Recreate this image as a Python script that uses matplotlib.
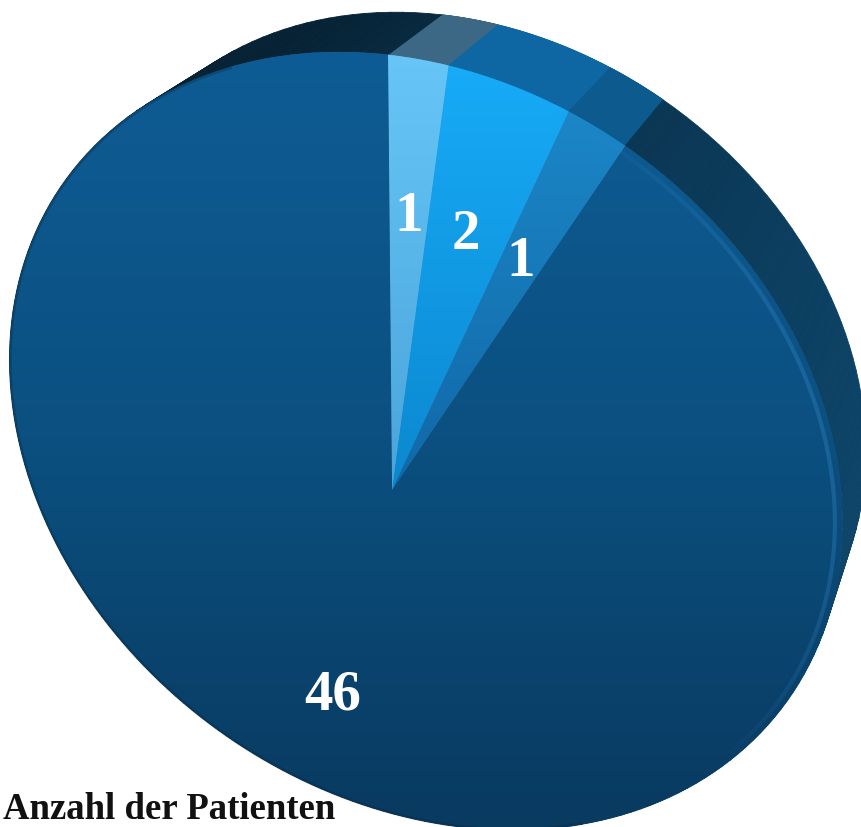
import numpy as np
import matplotlib
matplotlib.use("Agg")
import matplotlib.pyplot as plt
from matplotlib import transforms as mtransforms
from matplotlib.path import Path
from matplotlib.collections import PolyCollection, LineCollection
from matplotlib.colors import LinearSegmentedColormap, to_rgb

# Patienten je Gruppe, im Uhrzeigersinn ab 12 Uhr
werte = [1, 2, 1, 46]
beschriftung = ["1", "2", "1", "46"]
titel = "Anzahl der Patienten"

# Deckfläche (oben -> unten) und Mantelfarbe je Segment
deckel_farben = [["#67c6f7", "#4aa4da"],
                 ["#18acf9", "#0b88cf"],
                 ["#1d8bcb", "#1168a8"],
                 ["#0e5c95", "#0b5080", "#093a60"]]
rand_farben = ["#3c6886", "#0e67a3", "#0d5a8f", "#0d4468"]

W, H = 861, 827

# gekippte Scheibe in Pixelkoordinaten
ELL_C = np.array([426.0, 441.0])
ELL_A, ELL_B = 445.0, 356.0
ELL_ROT = np.radians(36.0)
APEX = np.array([392.0, 490.0])
TOP = np.array([388.0, 55.0])
VP = np.array([1200.0, -550.0])
DEPTH = 0.066


class PieView(mtransforms.Transform):
    """Projektive Abbildung Einheitskreis -> perspektivische Ellipse."""
    input_dims = output_dims = 2
    is_separable = False
    has_inverse = False

    def __init__(self):
        super().__init__()
        self.ex = np.array([np.cos(ELL_ROT), np.sin(ELL_ROT)])
        self.ey = np.array([np.sin(ELL_ROT), -np.cos(ELL_ROT)])
        p = self._to_disc(APEX)
        self.r = np.hypot(*p)
        self.phi = np.arctan2(p[1], p[0])
        self.beta = 0.0
        q = self._boost(*self._to_disc(TOP), -self.r)
        self.beta = np.arctan2(q[1], q[0]) - np.pi / 2

    def _to_disc(self, pt):
        d = pt - ELL_C
        return np.array([d @ self.ex / ELL_A, d @ self.ey / ELL_B])

    def _boost(self, x, y, r):
        c, s = np.cos(self.phi), np.sin(self.phi)
        xr, yr = c * x + s * y, -s * x + c * y
        den = 1 + r * xr
        xb = (xr + r) / den
        yb = yr * np.sqrt(1 - r * r) / den
        return c * xb - s * yb, s * xb + c * yb

    def transform_non_affine(self, xy):
        xy = np.asarray(xy, float)
        single = xy.ndim == 1
        xy = xy.reshape(-1, 2)
        cb, sb = np.cos(self.beta), np.sin(self.beta)
        x = cb * xy[:, 0] - sb * xy[:, 1]
        y = sb * xy[:, 0] + cb * xy[:, 1]
        u, v = self._boost(x, y, self.r)
        out = ELL_C + np.outer(ELL_A * u, self.ex) + np.outer(ELL_B * v, self.ey)
        return out[0] if single else out

    def transform_path_non_affine(self, path):
        k = 500.0
        polys = path.to_polygons(transform=mtransforms.Affine2D().scale(k),
                                 closed_only=False)
        parts = [Path(self.transform_non_affine(np.asarray(pg) / k)) for pg in polys]
        return Path.make_compound_path(*parts)


def arc(r, a0, a1, n=200):
    t = np.radians(np.linspace(a0, a1, n))
    return t, view.transform(np.column_stack([r * np.cos(t), r * np.sin(t)]))


fig = plt.figure(figsize=(W / 100, H / 100), dpi=100)
ax = fig.add_axes([0, 0, 1, 1])
view = PieView()

wedges, _ = ax.pie(werte, startangle=90, counterclock=False, radius=1,
                   wedgeprops=dict(linewidth=0))

front = view + ax.transData
depth = mtransforms.Affine2D().translate(-VP[0], -VP[1]).scale(1 - DEPTH).translate(VP[0], VP[1])

# Mantel (Seitenfläche) hinter der Deckfläche
quads, qcols = [], []
for i, (w, rc) in enumerate(zip(wedges, rand_farben)):
    t, f = arc(1.0, w.theta1, w.theta2)
    b = depth.transform(f)
    base = np.array(to_rgb(rc))
    for j in range(len(t) - 1):
        quads.append([f[j], f[j + 1], b[j + 1], b[j]])
        if i == len(wedges) - 1:
            g = max(0.5, 0.6 + 0.4 * np.cos(t[j]))
        else:
            g = 1.0
        qcols.append(np.clip(base * g, 0, 1))
side = PolyCollection(quads, facecolors=qcols, edgecolors=qcols, linewidths=0.6, zorder=1)
ax.add_collection(side)

# Deckfläche mit Verlauf
grad = np.linspace(0, 1, 256).reshape(-1, 1)
for i, (w, cols) in enumerate(zip(wedges, deckel_farben)):
    w.set_transform(front)
    w.set_facecolor(cols[len(cols) // 2])
    w.set_zorder(2)
    y1 = H if i == len(wedges) - 1 else APEX[1]
    im = ax.imshow(grad, cmap=LinearSegmentedColormap.from_list("d%d" % i, cols),
                   extent=[0, W, y1, 50], aspect="auto", zorder=3)
    im.set_clip_path(w)

# weiche Glanzkante oben rechts, leichte Schattenkante links
t, pts = arc(0.985, -35, 70)
segs = np.stack([pts[:-1], pts[1:]], axis=1)
alpha = np.clip(np.cos((t[:-1] - np.radians(18)) * 1.7), 0, 1) * 0.32
hl = np.zeros((len(segs), 4))
hl[:, :3] = to_rgb("#3a8fd4")
hl[:, 3] = alpha
ax.add_collection(LineCollection(segs, colors=hl, linewidths=3, zorder=4))

t, pts = arc(0.998, 110, 300)
segs = np.stack([pts[:-1], pts[1:]], axis=1)
ax.add_collection(LineCollection(segs, colors="#06243b", alpha=0.3,
                                 linewidths=2, zorder=4))

for w, txt in zip(wedges, beschriftung):
    mid = np.radians((w.theta1 + w.theta2) / 2)
    ax.text(0.67 * np.cos(mid), 0.67 * np.sin(mid), txt, transform=front,
            ha="center", va="center", color="white", fontsize=41,
            fontfamily="Liberation Serif", fontweight="bold", zorder=5)

ax.text(3, 819, titel, ha="left", va="baseline", fontsize=26.5,
        fontfamily="Liberation Serif", fontweight="bold", color="#111111")

ax.set_xlim(0, W)
ax.set_ylim(H, 0)
ax.set_aspect("auto")
ax.axis("off")
fig.savefig("out.png", dpi=100)
